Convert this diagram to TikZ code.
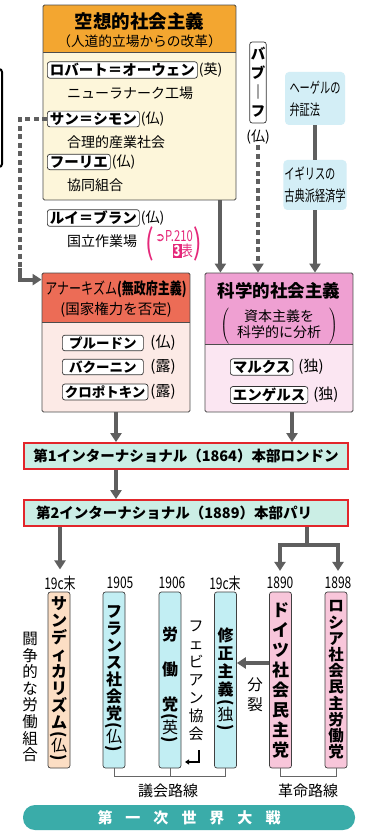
\documentclass[tikz,border=0pt]{standalone}
\usepackage{fontspec}
\usepackage{graphicx}
\setmainfont{Noto Sans CJK JP}
\newfontfamily\narrowfont[FakeStretch=0.75]{Noto Sans CJK JP}
\newfontfamily\tallfont[FakeStretch=0.68]{Noto Sans CJK JP}
\newfontfamily\symfont{DejaVu Sans}
\usetikzlibrary{positioning,calc,arrows.meta}

\definecolor{utopiahead}{HTML}{F3A630}
\definecolor{utopiabody}{HTML}{FDF6DA}
\definecolor{anarchyhead}{HTML}{EC6C56}
\definecolor{anarchybody}{HTML}{FCEAE6}
\definecolor{sciencehead}{HTML}{EFA0D2}
\definecolor{sciencebody}{HTML}{FBE6F2}
\definecolor{softblue}{HTML}{D3EEF6}
\definecolor{interfill}{HTML}{CBEEE5}
\definecolor{interred}{HTML}{E2262B}
\definecolor{arrowgray}{HTML}{5F5F5F}
\definecolor{refpink}{HTML}{E5287A}
\definecolor{synfill}{HTML}{FCDEC4}
\definecolor{parlfill}{HTML}{C2EEF3}
\definecolor{revfill}{HTML}{F8C6DA}
\definecolor{warfill}{HTML}{3AACA9}

\setlength{\fboxsep}{1pt}
\newcommand{\vo}{\rotatebox[origin=c]{-90}{(}}
\newcommand{\vc}{\rotatebox[origin=c]{-90}{)}}
\newcommand{\fsz}[2]{\fontsize{#1}{#2}\selectfont}

\tikzset{
  bigbox/.style={draw=black!70, line width=0.8pt, rounded corners=1.5pt, inner sep=0pt},
  boxline/.style={draw=black!70, line width=0.8pt},
  namebox/.style={draw=black!80, line width=0.7pt, fill=white, rounded corners=2.5pt, inner xsep=2.5pt, inner ysep=1.5pt, font=\bfseries\fsz{14.5}{15}},
  jtext/.style={inner sep=1pt, font=\fsz{14}{14}},
  flow/.style={draw=arrowgray, line width=4pt, -{Triangle[width=11pt,length=9pt]}},
  dashflow/.style={flow, dash pattern=on 5pt off 3.5pt},
  softbox/.style={fill=softblue, rounded corners=4pt, align=left, inner xsep=1pt, inner ysep=3pt, font=\tallfont\fsz{15}{22}},
  interbox/.style={draw=interred, fill=interfill, line width=1.8pt, minimum width=324pt, minimum height=26pt, inner sep=0pt, font=\bfseries\fsz{14.5}{15}},
  vbox/.style={draw=black!75, line width=0.7pt, rounded corners=2.5pt, minimum width=22pt, minimum height=176pt, inner sep=1pt, align=center},
  yearlabel/.style={inner sep=1pt, font=\narrowfont\fsz{16}{16}},
  refparen/.style={text=refpink, inner sep=0pt, font=\narrowfont\fsz{34}{34}},
  bracket/.style={draw=black!60, line width=0.8pt}
}

\begin{document}
\begin{tikzpicture}[x=1pt, y=-1pt]
    \useasboundingbox (0,0) rectangle (372,834);
    \fill[white] (0,0) rectangle (372,834);

    % Edge of the next panel
    \draw[line width=2pt, rounded corners=3pt] (-6,69) -- (2,69) -- (2,167) -- (-6,167);

    % Utopian socialism
    \fill[utopiabody] (43,5) rectangle (236,200);
    \fill[utopiahead] (43,5) rectangle (236,52);
    \draw[boxline] (43,52) -- (236,52);
    \node[bigbox, minimum width=193pt, minimum height=195pt] (utopia) at (139.5,102.5) {};
    \node[font=\bfseries\fsz{18.5}{18}] (utopiaTitle) at (139.5,21) {空想的社会主義};
    \node[font=\fsz{13.7}{14}] (utopiaSub) at (139.5,41) {（人道的立場からの改革）};
    \foreach \y/\who/\country/\what in {70/ロバート＝オーウェン/英/ニューラナーク工場, 119/サン＝シモン/仏/合理的産業社会, 162/フーリエ/仏/協同組合, 218/ルイ＝ブラン/仏/国立作業場}{
        \node[namebox, anchor=west] (ut\y) at (47,\y) {\who};
        \node[jtext, right=0pt of ut\y] (utLand\y) {(\country)};
        \node[jtext, anchor=west] (utWhat\y) at (66,\y+23) {\what};
    }
    \node[text=refpink, font=\narrowfont\fsz{15}{15}, inner sep=0pt, align=right] (ref) at (174,244) {{\symfont\fsz{12}{12}➲}P.210\\\colorbox{refpink}{\textcolor{white}{\bfseries 3}}表};
    \node[refparen, left=1pt of ref] (refOpen) {(};
    \node[refparen, right=0pt of ref] (refClose) {)};

    % Babeuf and the sources of Marxism
    \node[namebox, align=center, minimum height=81pt, inner xsep=1pt, font=\bfseries\fsz{14.5}{19}] (babeuf) at (258,82.5) {バ\\ブ\\｜\\フ};
    \node[jtext] (babeufLand) at (258,137) {(仏)};
    \node[softbox, minimum width=60pt, minimum height=53pt] (hegel) at (315,98.5) {ヘーゲルの\\弁証法};
    \node[softbox, minimum width=60pt, minimum height=50pt] (econ) at (315,185) {イギリスの\\古典派経済学};

    % Anarchism
    \fill[anarchybody] (42,273) rectangle (190,412);
    \fill[anarchyhead] (42,273) rectangle (190,322);
    \draw[boxline] (42,322) -- (190,322);
    \node[bigbox, minimum width=148pt, minimum height=139pt] (anarchy) at (116,342.5) {};
    \node[font=\narrowfont\fsz{16}{16}] (anarchyTitle) at (116,289) {アナーキズム{\bfseries(無政府主義)}};
    \node[font=\fsz{14.5}{15}] (anarchySub) at (116,310) {(国家権力を否定)};
    \foreach \y/\who/\country in {343/プルードン/仏, 367/バクーニン/露, 392/クロポトキン/露}{
        \node[namebox, minimum width=81pt, anchor=west, font=\bfseries\fsz{13.5}{14}] (an\y) at (62,\y) {\who};
        \node[jtext, font=\fsz{15}{15}] (anLand\y) at (163,\y) {(\country)};
    }

    % Scientific socialism
    \fill[sciencebody] (205,273) rectangle (353,412);
    \fill[sciencehead] (205,273) rectangle (353,344);
    \draw[boxline] (205,344) -- (353,344);
    \node[bigbox, minimum width=148pt, minimum height=139pt] (science) at (279,342.5) {};
    \node[font=\bfseries\fsz{17.5}{18}] (scienceTitle) at (279,291) {科学的社会主義};
    \node[font=\fsz{14}{16.5}] (scienceSub) at (279,326) {$\left(\begin{tabular}{@{\hspace{8pt}}c@{\hspace{8pt}}}資本主義を\\科学的に分析\end{tabular}\right)$};
    \foreach \y/\who in {367/マルクス, 395/エンゲルス}{
        \node[namebox, anchor=west] (sc\y) at (230,\y) {\who};
        \node[jtext, font=\fsz{15}{15}, right=4pt of sc\y] (scLand\y) {(独)};
    }

    % Internationals
    \node[interbox] (first) at (186,456) {第1インターナショナル（1864）本部ロンドン};
    \node[interbox, text width=300pt, align=left] (second) at (186,513) {第2インターナショナル（1889）本部パリ};

    % Parties
    \foreach \x/\yr/\n in {60/19c末/1, 120/1905/2, 172/1906/3, 225/19c末/4, 280/1890/5, 338/1898/6}
        \node[yearlabel] (yr\n) at (\x,583) {\yr};
    \node[vbox, fill=synfill, font=\bfseries\fsz{16}{17}] (syn) at (59,680) {サ\\ン\\デ\\ィ\\カ\\リ\\ズ\\ム\\[-6pt]\vo\\[-5pt]{\mdseries 仏}\\[-6pt]\vc};
    \node[vbox, fill=parlfill, font=\bfseries\fsz{16}{17}] (fr) at (114,680) {フ\\ラ\\ン\\ス\\社\\会\\党\\[-6pt]\vo\\[-5pt]{\mdseries 仏}\\[-6pt]\vc};
    \node[vbox, fill=parlfill, font=\bfseries\fsz{16}{17}] (lab) at (170,680) {\mbox{}\\[8pt]労\\[18pt]働\\[18pt]党\\[-6pt]\vo\\[-5pt]{\mdseries 英}\\[-6pt]\vc};
    \node[vbox, fill=parlfill, font=\bfseries\fsz{16}{18}] (rev) at (225.5,680) {修\\正\\主\\義\\[-6pt]\vo\\[-5pt]{\mdseries 独}\\[-6pt]\vc};
    \node[vbox, fill=revfill, font=\bfseries\fsz{17}{20}] (spd) at (280.5,680) {ド\\イ\\ツ\\社\\会\\民\\主\\党};
    \node[vbox, fill=revfill, font=\bfseries\fsz{15.5}{16.2}] (rsd) at (336,680) {ロ\\シ\\ア\\社\\会\\民\\主\\労\\働\\党};
    \node[font=\fsz{15.5}{16.6}, align=center] (union) at (30,697) {闘\\争\\的\\な\\労\\働\\組\\合};
    \node[font=\fsz{15}{18}, align=center, inner sep=0pt] (fabian) at (196,681) {フ\\ェ\\ビ\\ア\\ン\\協\\会};
    \node[font=\fsz{15.5}{20}, align=center] (splitLabel) at (255,695) {分\\裂};

    % Routes
    \coordinate (parl) at (0,776);
    \draw[bracket] (fr.south) |- (rev.south |- parl) -- (rev.south);
    \draw[bracket] (lab.south) -- (lab.south |- parl);
    \draw[bracket] (spd.south) |- (rsd.south |- parl) -- (rsd.south);
    \node[font=\fsz{15}{15}] (parlLabel) at (168,791) {議会路線};
    \node[font=\fsz{15}{15}] (revLabel) at (308,791) {革命路線};
    \node[fill=warfill, rounded corners=12pt, minimum width=332pt, minimum height=25pt, text=white, font=\bfseries\fsz{15}{15}] (war) at (189,817.5) {第\hspace{13pt}一\hspace{13pt}次\hspace{13pt}世\hspace{13pt}界\hspace{13pt}大\hspace{13pt}戦};

    % Arrows
    \coordinate (ssTurn) at (20,268);
    \draw[dashflow, -] (ut119.west) -| (ssTurn);
    \draw[flow] (ssTurn) |- ([yshift=-7pt]anarchy.north west);
    \coordinate (utopiaOut) at ([xshift=-16pt]utopia.south east);
    \draw[flow] (utopiaOut) -- (utopiaOut |- science.north);
    \draw[dashflow] (babeufLand.south) -- (babeufLand.south |- science.north);
    \draw[flow, -] (hegel) -- (econ);
    \draw[flow] (econ.south) -- (econ.south |- science.north);
    \draw[flow] (anarchy.south) -- (anarchy.south |- first.north);
    \coordinate (scienceOut) at ([xshift=13pt]science.south);
    \draw[flow] (scienceOut) -- (scienceOut |- first.north);
    \draw[flow] (first.south -| anarchy.south) -- (second.north -| anarchy.south);
    \draw[flow] (second.south -| yr1) -- ([yshift=5pt]yr1.north);
    \coordinate (split) at (307,545);
    \draw[flow, -] (second.south -| split) -- (split);
    \draw[flow] (split) -| ([yshift=5pt]yr5.north);
    \draw[flow] (split) -| ([yshift=5pt]yr6.north);
    \draw[flow] ([yshift=17pt]spd.west) -- ([yshift=17pt]rev.east);
    \coordinate (fabTop) at (199,750);
    \coordinate (fabEnd) at (185,762);
    \draw[line width=1.2pt, -{Triangle[width=5pt,length=4pt]}] (fabTop) |- (fabEnd);
\end{tikzpicture}
\end{document}
